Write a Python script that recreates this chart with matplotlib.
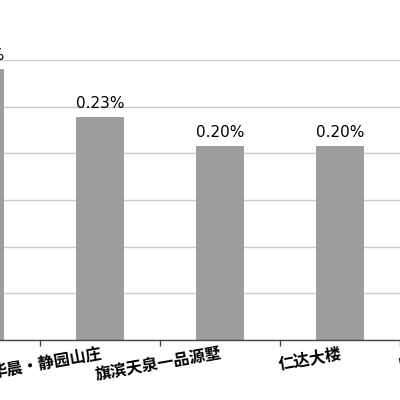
import matplotlib
matplotlib.use("Agg")
import matplotlib.pyplot as plt
from matplotlib.ticker import MultipleLocator, FixedLocator

# chart data (percent)
names = ["", "华晨·静园山庄", "旗滨天泉一品源墅", "仁达大楼", "四季花城"]
values = [0.28, 0.23, 0.20, 0.20, 0.19]

bar_color = "#9e9e9e"

fig = plt.figure(figsize=(4, 4), dpi=100)
# the axes is wider than the figure: the chart is a cropped view
ax = fig.add_axes([-0.4, 0.15, 1.8, 0.70])

x = list(range(len(names)))
bars = ax.bar(x, values, width=0.4, color=bar_color, zorder=2)

for xi, v in zip(x, values):
    ax.text(xi, v + 0.006, "%.2f%%" % v, ha="center", va="bottom",
            fontsize=11, family="DejaVu Sans", color="black")

ax.set_xlim(-1.1667, 4.8333)
ax.set_ylim(0, 0.2888)

ax.yaxis.set_major_locator(MultipleLocator(0.04812))
ax.grid(axis="y", color="#c8c8c8", linewidth=1)
ax.set_axisbelow(True)
ax.tick_params(axis="y", left=False, labelleft=False)

ax.set_xticks(x)
ax.set_xticklabels(names, rotation=10, ha="right", rotation_mode="anchor",
                   family=["Noto Sans CJK SC", "DejaVu Sans"], fontsize=11.5,
                   fontweight="bold")
ax.tick_params(axis="x", which="major", length=0, pad=4)
ax.xaxis.set_minor_locator(FixedLocator([i + 0.5 for i in range(len(names) - 1)]))
ax.tick_params(axis="x", which="minor", length=4, color="#444444", width=1)

for s in ["left", "right", "top"]:
    ax.spines[s].set_visible(False)
ax.spines["bottom"].set_color("#444444")
ax.spines["bottom"].set_linewidth(1)

fig.savefig("out.png", dpi=100)
